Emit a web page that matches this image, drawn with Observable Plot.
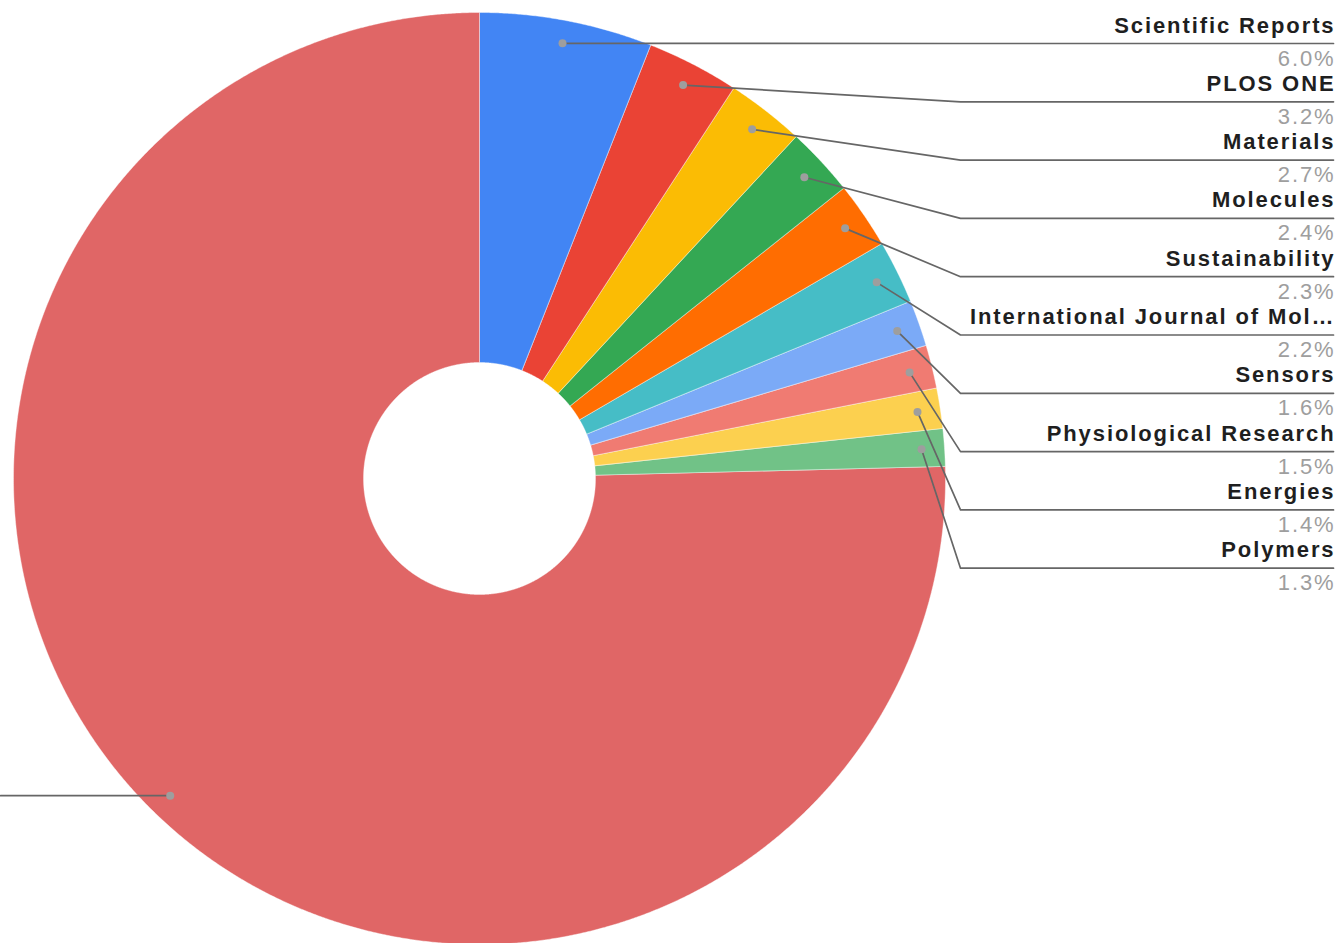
<!DOCTYPE html>
<html><head><meta charset="utf-8">
<script src="https://cdn.jsdelivr.net/npm/d3@7"></script>
<script src="https://cdn.jsdelivr.net/npm/@observablehq/plot@0.6"></script>
<style>body{margin:0;background:#fff;overflow:hidden} #chart text{letter-spacing:1.9px}</style>
</head><body><div id="chart"></div>
<script>
// ---- data ----
const journals = ["Scientific Reports","PLOS ONE","Materials","Molecules","Sustainability","International Journal of Mol…","Sensors","Physiological Research","Energies","Polymers","Other"];
const shares = [6.0,3.2,2.7,2.4,2.3,2.2,1.6,1.5,1.4,1.3,75.4];
const pctLabels = ["6.0%","3.2%","2.7%","2.4%","2.3%","2.2%","1.6%","1.5%","1.4%","1.3%","75.4%"];
const colors = ["#4285f4","#ea4335","#fbbc04","#34a853","#ff6d01","#46bdc6","#7baaf7","#f07b72","#fcd04f","#71c287","#e06666"];

// ---- layout (pixels, relative to donut centre) ----
const W = 1337, H = 943, CX = 479, CY = 478;
const R = 466, R0 = 116, RDOT = 443;
const BEND_X = 960 - CX, END_X = 1333 - CX;
const ROW0 = 43 - CY, ROW_STEP = 58.3;

const total = d3.sum(shares);
let acc = 0;
const slices = shares.map((v, i) => {
  const a0 = acc / total * 2 * Math.PI; acc += v;
  const a1 = acc / total * 2 * Math.PI;
  return {i, name: journals[i], a0, a1, mid: (a0 + a1) / 2};
});
const pol = (r, a) => ({x: r * Math.sin(a), y: -r * Math.cos(a)});

function slicePoly(s) {
  const step = 0.004;
  const angs = d3.range(s.a0, s.a1, step).concat([s.a1]);
  const outer = angs.map(a => pol(R, a));
  const inner = angs.slice().reverse().map(a => pol(R0, a));
  return outer.concat(inner);
}

const dots = slices.map(s => ({...s, ...pol(RDOT, s.mid)}));
const leaders = [];
dots.forEach((d, i) => {
  if (i < journals.length - 1) {
    const ry = ROW0 + i * ROW_STEP;
    leaders.push({k: i, x: d.x, y: d.y}, {k: i, x: BEND_X, y: ry}, {k: i, x: END_X, y: ry});
  } else {
    leaders.push({k: i, x: d.x, y: d.y}, {k: i, x: -CX, y: d.y});
  }
});
const rightLabels = journals.slice(0, -1).map((n, i) => ({name: n, pct: pctLabels[i], x: END_X, y: ROW0 + i * ROW_STEP}));

const marks = [];
slices.forEach(s => {
  marks.push(Plot.line(slicePoly(s), {x: "x", y: "y", curve: "linear-closed", fill: colors[s.i], stroke: "#ffffff", strokeWidth: 0.8, strokeOpacity: 0.5}));
});
marks.push(Plot.line(leaders, {x: "x", y: "y", z: "k", stroke: "#666666", strokeWidth: 1.7}));
marks.push(Plot.dot(dots, {x: "x", y: "y", r: 4, fill: "#9e9e9e", stroke: "none"}));
marks.push(Plot.text(rightLabels, {x: "x", y: "y", text: "name", textAnchor: "end", dx: 2, dy: -18, fontSize: 22, fontWeight: "bold", fill: "#1f1f1f"}));
marks.push(Plot.text(rightLabels, {x: "x", y: "y", text: "pct", textAnchor: "end", dx: 2, dy: 15, fontSize: 22, fill: "#9e9e9e"}));

const chart = Plot.plot({
  width: W, height: H, margin: 0,
  style: {fontFamily: "'Liberation Sans', Arial, sans-serif", background: "#fff"},
  x: {domain: [-CX, W - CX], range: [0, W], axis: null},
  y: {domain: [-CY, H - CY], range: [0, H], axis: null},
  marks
});
document.getElementById("chart").appendChild(chart);
</script>
</body></html>
